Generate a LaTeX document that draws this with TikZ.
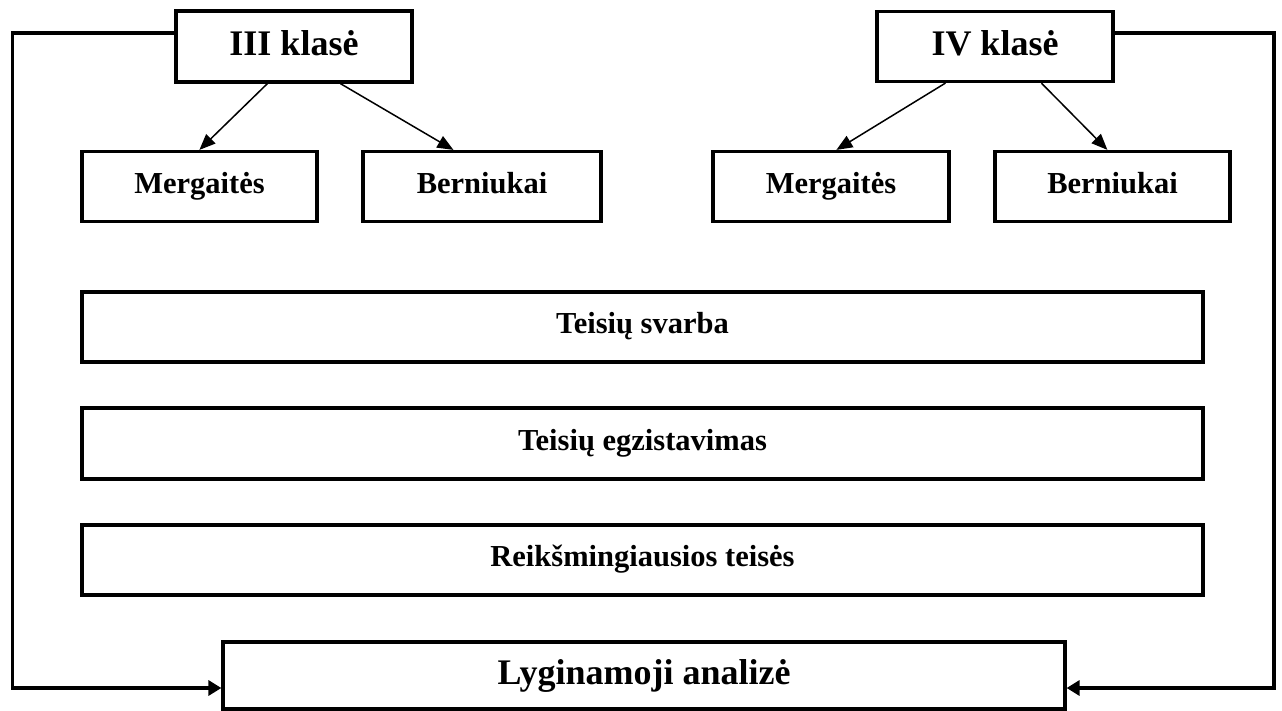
\documentclass[tikz,border=0pt]{standalone}
\usepackage{fontspec}
\setmainfont{Liberation Serif}
\usetikzlibrary{arrows.meta,calc}
\begin{document}
\begin{tikzpicture}[x=1pt,y=-1pt,
  box/.style={draw,line width=3.2pt,rectangle,inner sep=0pt,
    font=\bfseries\fontsize{30.5}{34}\selectfont,text height=20pt,text depth=6.5pt},
  title/.style={box,font=\bfseries\fontsize{36}{40}\selectfont,text height=23.8pt,text depth=5pt},
  thinarr/.style={line width=1.5pt,-{Triangle[length=16pt,width=13pt]}},
  conn/.style={line width=3.2pt,-{Triangle[length=13pt,width=15pt]}}]
\useasboundingbox (0,0) rectangle (1282,711);
% top boxes
\node[title,minimum width=236,minimum height=71] (t3) at (294,46.5) {III klasė};
\node[title,minimum width=236,minimum height=70] (t4) at (995,46.5) {IV klasė};
\node[box,minimum width=235,minimum height=70] (m3) at (199.5,186.5) {Mergaitės};
\node[box,minimum width=238,minimum height=70] (b3) at (482,186.5) {Berniukai};
\node[box,minimum width=236,minimum height=70] (m4) at (831,186.5) {Mergaitės};
\node[box,minimum width=235,minimum height=70] (b4) at (1112.5,186.5) {Berniukai};
% wide boxes
\node[box,minimum width=1121,minimum height=70] (w1) at (642.5,327) {Teisių svarba};
\node[box,minimum width=1121,minimum height=71] (w2) at (642.5,443.5) {Teisių egzistavimas};
\node[box,minimum width=1121,minimum height=70] (w3) at (642.5,560) {Reikšmingiausios teisės};
% bottom box
\node[title,minimum width=842,minimum height=67] (ly) at (644,675.5) {Lyginamoji analizė};
% diagonal arrows
\draw[thinarr] ($(t3.south west)+(93,0)$) -- ($(m3.north west)+(119,0)$);
\draw[thinarr] ($(t3.south west)+(166,0)$) -- ($(b3.north west)+(92,0)$);
\draw[thinarr] ($(t4.south west)+(70,0)$) -- ($(m4.north west)+(125,0)$);
\draw[thinarr] ($(t4.south west)+(166,0)$) -- ($(b4.north west)+(114,0)$);
% side connectors
\coordinate (cl1) at (12.5,33);
\coordinate (cl2) at (12.5,688);
\coordinate (cr1) at (1274,33);
\coordinate (cr2) at (1274,688);
\draw[conn] (t3.west |- cl1) -- (cl1) -- (cl2) -- (ly.west |- cl2);
\draw[conn] (t4.east |- cr1) -- (cr1) -- (cr2) -- (ly.east |- cr2);
\end{tikzpicture}
\end{document}
